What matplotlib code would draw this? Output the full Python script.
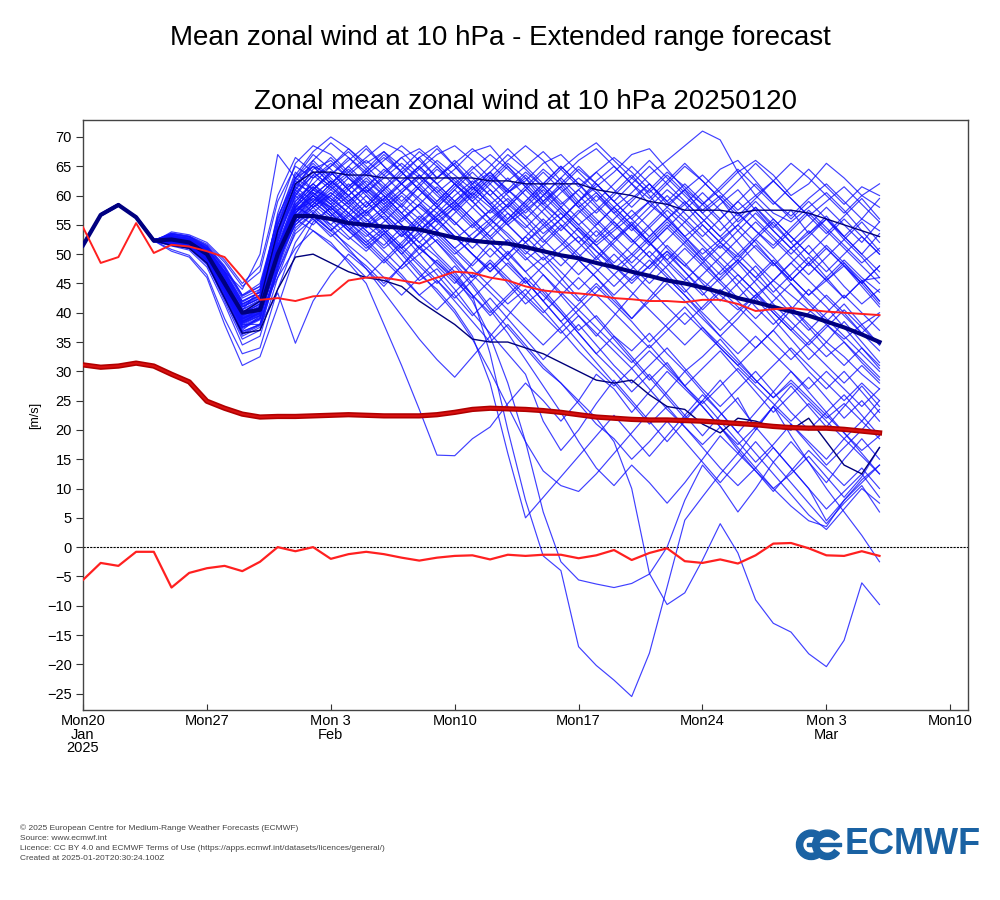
import numpy as np
import pandas as pd
import matplotlib
matplotlib.use("Agg")
import matplotlib.pyplot as plt
from matplotlib import font_manager
from matplotlib.patches import Wedge, Rectangle

# fechas: 46 dias desde el 20 de enero de 2025
dates = pd.date_range("2025-01-20", periods=46, freq="D")
tick_dates = pd.date_range("2025-01-20", "2025-03-10", freq="7D")
tick_labels = ["Mon20\nJan\n2025", "Mon27", "Mon 3\nFeb", "Mon10",
               "Mon17", "Mon24", "Mon 3\nMar", "Mon10"]

# miembros del ensemble (aproximados)
members = [
    [51.6,56.8,58.5,56.2,52.4,53.5,53.0,51.5,48.0,43.0, 45.0,56.0,63.5,67.5,70.0,68.0,65.5,67.5,64.0,66.5, 63.0,65.5,62.0,64.0,60.5,63.0,59.0,61.5,58.0,60.5, 57.0,59.5,62.0,58.5,61.0,57.0,59.5,55.5,58.0,54.5, 57.5,53.5,56.0,52.5,55.5,52.0],
    [51.4,56.6,58.3,56.4,52.2,52.0,51.5,50.0,45.0,38.5, 40.0,52.0,61.5,65.0,63.5,66.0,68.5,65.0,62.0,64.5, 67.0,68.5,66.0,63.0,60.5,62.5,65.5,67.0,64.0,61.0, 58.0,60.5,63.5,66.0,68.5,71.0,69.5,64.0,60.0,57.0, 55.5,58.0,60.5,57.5,54.0,50.5],
    [51.5,56.7,58.4,56.3,52.5,53.0,52.0,49.5,43.5,37.0, 39.5,51.0,60.0,64.5,66.0,63.0,60.5,63.5,66.5,68.0, 65.5,62.5,60.0,63.0,66.0,68.5,66.0,62.5,59.0,61.5, 64.0,67.0,68.0,64.5,61.0,58.5,61.0,64.0,66.0,63.5, 60.0,62.0,65.5,63.0,60.0,62.0],
    [51.7,56.9,58.6,56.1,52.1,52.5,53.0,51.0,47.0,41.5, 43.0,57.0,65.5,68.5,67.0,64.0,66.5,69.0,67.5,64.5, 62.0,64.5,67.5,68.5,65.0,61.5,58.5,56.0,59.0,62.5, 65.0,62.0,58.5,56.0,58.5,61.5,64.5,66.0,62.5,59.0, 56.5,59.5,62.0,59.0,56.0,59.5],
    [51.5,56.7,58.4,56.3,52.3,51.5,51.0,48.5,42.0,35.5, 37.0,47.5,58.0,63.0,65.0,67.5,64.5,61.0,63.5,66.5, 68.5,65.0,61.5,58.5,61.0,64.0,61.5,58.0,55.0,57.5, 60.5,63.5,60.0,56.5,53.0,55.5,58.5,61.0,57.5,54.0, 51.0,53.5,56.5,53.0,50.0,47.0],
    [51.3,56.5,58.2,56.5,52.6,52.8,52.3,50.5,46.0,40.5, 42.0,50.5,57.0,59.5,58.0,55.5,57.5,60.0,57.0,54.0, 56.5,59.0,61.5,58.5,55.0,52.0,54.5,57.0,54.0,50.5, 47.5,50.0,53.0,56.0,53.0,49.5,46.5,49.0,52.5,49.5, 46.0,43.0,45.5,48.5,45.0,41.5],
    [51.6,56.8,58.5,56.2,52.4,53.2,52.5,50.8,46.5,41.0, 42.5,49.0,55.0,58.0,60.0,57.0,54.5,56.5,53.5,50.0, 52.5,49.5,46.0,48.5,45.0,41.5,44.0,40.5,37.0,39.5, 36.0,33.5,36.5,33.0,30.0,32.5,35.5,32.0,28.5,25.5, 28.0,25.0,22.0,24.5,21.5,18.5],
    [51.4,56.6,58.3,56.4,52.2,51.8,51.2,49.0,44.0,38.0, 39.5,53.5,62.0,60.5,58.0,61.0,63.5,60.5,58.0,61.5, 64.5,62.0,59.0,56.0,58.5,61.5,64.5,62.0,58.5,55.5, 52.5,55.0,58.0,61.0,58.5,55.0,52.0,49.5,52.5,55.5, 52.0,48.5,45.5,48.0,44.5,41.0],
    [51.5,56.7,58.4,56.3,52.3,52.2,51.8,49.8,45.0,39.0, 40.0,46.0,51.0,54.0,52.0,48.5,45.0,38.0,31.0,23.5, 15.7,15.6,18.5,20.5,24.5,28.0,25.0,21.5,25.0,29.5, 27.0,23.0,26.5,30.0,27.0,24.0,20.5,17.5,20.5,24.0, 21.0,18.0,15.0,18.5,15.5,12.5],
    [51.5,56.7,58.4,56.3,52.3,52.6,52.0,50.2,45.5,39.5, 41.0,51.0,57.5,60.0,58.0,55.0,57.5,54.0,51.0,53.5, 50.0,47.0,43.0,33.0,20.0,8.0,-1.5,-4.0,-17.0,-20.2, -22.7,-25.5,-18.1,-6.8,4.6,8.6,12.5,16.0,13.0,9.5, 13.0,16.5,13.5,10.5,13.5,10.0],
    [51.4,56.6,58.3,56.4,52.2,52.3,51.7,49.5,44.5,38.5, 40.0,49.5,56.5,59.5,57.0,54.5,52.0,54.5,51.5,55.0, 52.0,48.5,45.0,41.0,37.5,34.0,30.5,28.0,25.0,22.0, 18.0,10.0,-4.5,-9.8,-7.8,-2.2,4.0,-1.0,-9.0,-13.0, -14.5,-18.2,-20.4,-15.9,-6.1,-9.8],
    [51.6,56.8,58.5,56.2,52.4,52.9,52.4,50.3,45.8,40.0, 41.5,50.0,57.0,61.0,59.5,57.0,54.0,51.5,54.5,51.0, 48.5,46.0,42.0,36.0,28.0,18.0,6.0,-2.5,-5.6,-6.3, -6.9,-6.2,-4.6,0.0,8.0,14.0,10.5,6.0,10.0,14.5, 18.0,14.5,11.0,15.0,18.5,15.0],
    [51.5,56.7,58.4,56.3,52.3,52.0,51.3,49.0,43.0,36.5, 38.0,48.0,56.0,60.0,62.5,60.0,57.0,59.5,56.5,53.5, 56.0,53.0,50.0,47.5,50.5,47.0,43.5,40.0,36.5,33.0, 30.0,26.5,29.5,26.0,22.5,19.0,22.5,25.5,20.0,24.0, 19.0,14.5,10.0,6.0,2.0,-2.5],
    [51.5,56.7,58.4,56.3,52.3,52.0,51.5,49.0,44.0,38.0, 38.0,43.4,34.8,42.0,46.5,50.0,47.5,44.5,48.0,51.5, 48.0,45.0,48.5,52.0,49.0,45.5,42.0,45.5,49.0,46.0, 42.5,39.0,42.5,46.0,43.0,39.5,36.0,39.0,42.5,39.0, 35.5,32.0,35.0,38.5,35.0,31.5],
    [51.5,56.7,58.4,56.3,52.3,53.0,52.5,51.0,47.0,44.0, 50.0,67.0,63.0,65.0,62.0,64.5,61.5,64.0,66.5,63.5, 60.5,63.0,60.0,57.0,59.5,56.5,53.5,56.0,59.0,56.0, 53.0,50.0,47.5,50.5,47.0,44.0,47.0,50.0,47.0,43.5, 46.5,49.5,46.0,42.5,45.5,42.0],
    [51.4,56.6,58.3,56.4,52.2,52.5,51.9,49.9,45.2,39.5, 41.0,50.0,56.0,58.5,56.0,53.0,50.5,53.5,50.0,46.5, 44.0,40.5,36.0,28.0,16.0,5.0,8.5,12.0,15.5,19.0, 22.5,19.0,15.5,19.0,22.5,26.0,23.0,19.5,16.0,12.5, 9.0,5.5,3.0,6.5,10.0,7.5],
    [51.6,56.8,58.5,56.2,52.4,52.0,51.4,49.2,44.2,38.2, 39.5,49.0,55.5,58.0,60.5,58.0,55.0,52.5,49.0,45.5, 47.5,44.0,40.0,36.5,33.0,29.5,21.5,16.5,20.0,24.5, 28.5,25.0,21.5,18.0,21.5,25.0,28.5,24.5,20.5,17.0, 13.5,10.0,4.5,8.0,11.5,14.0],
    [51.5,56.7,58.4,56.3,52.3,53.3,52.7,51.2,47.5,42.5, 44.0,54.5,61.0,64.0,61.5,59.0,61.5,64.5,62.0,59.5, 57.0,60.0,62.5,60.0,57.0,54.5,57.5,60.5,63.0,60.5, 57.5,54.5,51.5,54.5,57.5,60.5,57.5,54.0,51.0,48.0, 51.0,54.0,51.0,48.0,45.0,48.0],
    [51.3,56.5,58.2,56.5,52.6,52.4,51.9,49.6,44.8,38.8, 40.5,50.0,57.5,59.0,56.5,59.0,61.5,59.0,56.0,58.5, 55.5,52.5,55.0,57.5,55.0,52.0,49.0,51.5,54.5,51.5, 48.0,45.0,48.0,51.5,48.5,45.0,42.0,45.0,48.0,44.5, 41.0,38.0,35.0,32.5,29.5,27.0],
    [51.7,56.9,58.6,56.1,52.1,52.7,52.2,50.4,46.2,41.0, 42.5,53.0,61.0,66.0,69.0,66.5,63.5,66.0,68.5,66.0, 63.0,65.5,68.0,65.5,62.5,65.0,67.5,64.5,61.5,64.0, 66.5,64.0,61.0,58.0,61.0,63.5,60.5,57.5,60.0,62.5, 59.5,56.5,59.0,61.5,58.5,55.5],
    [51.5,56.7,58.4,56.3,52.3,51.8,51.1,48.7,43.2,36.8, 38.0,48.5,57.0,60.5,58.5,56.0,53.5,50.5,47.5,50.0, 46.5,43.0,39.5,42.5,39.0,35.5,32.0,35.0,38.0,34.5, 31.0,28.0,31.0,34.0,30.5,27.0,24.0,27.0,30.0,26.5, 23.0,20.0,23.0,26.0,22.5,19.0],
    [51.4,56.6,58.3,56.4,52.2,52.2,51.6,49.4,44.6,38.6, 40.0,49.0,55.0,57.5,54.5,51.0,47.5,43.5,39.5,35.5, 32.0,29.0,32.5,36.0,39.5,43.0,46.5,43.0,39.5,36.0, 39.5,43.0,46.5,50.0,47.0,43.5,40.0,37.0,34.0,37.0, 40.5,44.0,41.0,37.5,34.0,31.0],
    [51.6,56.8,58.5,56.2,52.4,53.1,52.6,51.0,47.2,42.0, 43.5,55.5,63.0,61.0,63.5,66.5,64.0,61.5,64.5,67.5, 65.0,62.0,59.5,62.5,65.5,63.0,60.0,63.0,66.0,68.0, 65.0,62.0,59.5,62.5,65.5,62.5,59.5,56.5,59.5,62.5, 65.5,63.0,60.0,57.0,60.0,58.0],
    [51.5,56.7,58.4,56.3,52.3,52.4,51.8,49.7,45.0,39.2, 40.5,51.5,58.0,56.5,54.0,56.5,54.0,51.0,53.5,56.5, 54.0,51.0,53.5,56.0,53.5,50.5,48.0,50.5,53.0,50.5, 48.0,45.5,48.0,50.5,48.0,45.5,43.0,40.5,43.0,45.5, 43.0,40.5,38.0,35.5,38.0,40.0],
    [51.5,56.7,58.4,56.3,52.3,50.5,49.5,46.0,38.0,31.0, 32.5,41.0,50.0,55.5,58.0,55.5,53.0,55.5,58.5,56.0, 53.0,50.0,52.5,55.5,58.5,56.0,52.5,49.5,46.5,49.5, 52.5,55.5,52.0,48.5,45.5,48.5,51.5,48.5,45.0,41.5, 38.5,35.5,32.5,35.0,31.5,28.5],
    [51.4,56.6,58.3,56.4,52.2,51.6,51.0,48.2,42.5,36.0, 37.5,47.0,54.5,57.0,55.0,52.5,55.0,57.5,55.0,52.0, 49.5,46.5,43.0,39.5,42.5,45.5,42.0,38.5,35.0,31.5, 28.0,24.5,21.0,24.0,20.5,17.0,13.5,10.5,13.5,17.0, 13.5,10.0,6.5,9.5,12.5,8.5],
    [51.6,56.8,58.5,56.2,52.4,52.6,52.0,50.0,45.3,39.8, 41.5,54.0,63.0,67.0,64.5,61.5,64.0,66.5,64.0,61.0, 58.5,61.5,64.5,67.0,64.5,61.5,58.5,61.5,64.5,62.0, 59.0,56.0,59.0,62.0,65.0,62.5,59.5,62.5,65.5,62.5, 59.5,56.5,53.5,56.5,59.5,56.0],
    [51.5,56.7,58.4,56.3,52.3,52.1,51.5,49.1,44.0,37.8, 39.2,49.5,57.0,60.0,57.5,60.0,62.5,60.0,57.0,54.0, 56.5,59.0,56.0,53.0,50.0,47.0,49.5,46.0,42.5,39.0, 35.5,32.0,28.5,31.5,27.5,24.0,20.5,17.0,13.5,10.0, 7.0,4.5,3.5,8.0,11.0,14.0],
    [51.5,56.7,58.4,56.3,52.3,53.4,52.9,51.3,47.8,43.0, 44.5,55.0,62.5,60.0,62.5,60.0,57.0,59.5,62.0,59.0, 56.0,58.5,61.5,58.5,55.5,58.0,61.0,58.0,55.0,52.0, 54.5,57.5,54.5,51.0,48.0,51.0,48.0,44.5,41.0,38.0, 41.0,37.5,34.0,31.0,34.0,30.5],
    [51.3,56.5,58.2,56.5,52.6,52.3,51.7,49.3,44.3,38.3, 39.8,48.5,55.5,58.5,61.0,58.5,56.0,53.5,56.0,58.5, 56.0,53.0,50.0,47.0,50.0,53.0,56.0,53.0,50.0,47.5, 44.5,47.5,50.5,47.5,44.0,40.5,43.5,46.5,43.5,40.0, 37.0,40.0,43.0,40.0,36.5,33.5],
    [51.6,56.8,58.5,56.2,52.4,52.7,52.1,50.0,45.6,40.2, 41.8,51.5,58.5,56.0,53.0,55.5,52.5,49.5,46.5,43.0, 45.5,42.0,38.5,35.0,38.0,34.5,31.0,28.0,24.5,21.0, 18.5,15.0,18.0,21.5,18.0,14.5,11.0,14.5,18.0,14.5, 11.0,7.5,4.0,7.5,10.5,6.0],
    [51.5,56.7,58.4,56.3,52.3,53.6,53.1,51.7,48.6,44.5, 47.0,59.0,65.0,63.0,65.5,63.0,60.5,63.0,65.5,63.0, 60.0,57.5,60.5,63.5,61.0,58.0,55.0,58.0,61.0,58.0, 55.0,52.0,55.0,58.0,55.5,52.5,49.5,52.5,55.5,52.5, 49.5,46.5,49.5,52.5,49.5,46.0],
    [51.4,56.6,58.3,56.4,52.2,52.1,51.4,49.1,44.3,38.4, 39.8,49.0,56.0,59.0,56.5,54.0,51.5,54.0,51.0,48.0, 45.0,48.0,44.5,40.5,36.5,32.0,27.5,23.0,18.0,13.5, 10.5,14.0,11.0,7.5,11.0,15.0,19.0,16.0,20.0,24.0, 27.5,24.0,20.5,24.0,27.5,24.0],
    [51.5,56.7,58.4,56.3,52.3,51.9,51.2,48.9,43.6,37.3, 38.8,47.0,53.5,56.0,53.5,50.5,48.0,45.0,48.0,51.0, 48.5,45.5,42.5,45.5,48.5,45.5,42.0,38.5,41.5,44.5, 41.5,38.5,35.0,38.0,41.0,37.5,34.0,31.0,34.0,37.0, 33.5,30.0,27.0,30.0,26.5,23.0],
    [51.6,56.8,58.5,56.2,52.4,52.3,51.7,49.6,44.9,39.0, 40.5,52.5,60.0,63.5,61.0,63.5,66.0,63.5,60.5,63.0, 66.0,63.5,61.0,64.0,61.0,58.5,61.5,64.5,67.0,69.0, 66.0,63.0,60.5,63.5,60.5,57.5,60.0,57.0,54.0,51.5, 54.5,57.5,54.5,51.5,48.5,51.0],
    [51.5,56.7,58.4,56.3,52.3,52.8,52.2,50.6,46.4,41.0, 42.5,52.0,59.0,62.0,59.5,57.0,54.5,57.0,54.0,51.0, 53.5,50.5,47.5,44.5,41.5,44.0,40.5,37.0,33.5,30.5, 27.5,30.5,27.0,23.5,20.5,17.5,20.5,16.5,13.0,10.0, 12.5,15.5,12.0,8.5,12.0,17.0],
    [51.4,56.6,58.3,56.4,52.2,52.9,52.4,50.8,46.8,41.5, 43.0,54.0,60.5,58.0,60.5,58.0,55.5,58.0,60.5,58.0, 55.5,58.0,60.5,58.0,55.0,57.5,60.0,57.0,54.0,51.5, 54.0,56.5,59.0,56.0,53.0,50.0,52.5,55.0,52.0,48.5, 45.5,48.5,45.5,42.5,45.5,42.0],
    [51.5,56.7,58.4,56.3,52.3,50.8,49.8,46.5,39.0,33.0, 34.0,44.0,52.0,56.5,54.0,51.5,49.0,46.0,43.0,46.0, 49.0,46.0,43.0,40.0,43.0,46.0,43.0,40.0,36.5,33.0, 36.0,32.5,29.0,25.5,22.0,25.0,21.5,18.0,14.5,17.5, 21.0,17.5,14.0,17.0,20.0,23.5],
    [51.7,56.9,58.6,56.1,52.1,53.8,53.3,52.0,49.0,45.0, 48.0,60.0,66.5,64.0,61.5,64.0,61.0,58.5,61.0,63.5, 61.0,58.0,61.0,64.0,67.0,64.5,61.5,58.5,61.0,64.0, 61.0,58.0,61.0,64.0,61.5,58.5,61.5,64.5,61.5,58.5, 61.5,64.5,61.5,58.5,61.5,60.0],
    [51.5,56.7,58.4,56.3,52.3,52.2,51.6,49.3,44.4,38.5, 40.0,50.5,58.5,61.5,59.0,56.5,59.0,56.0,53.0,55.5, 58.0,55.5,52.5,55.0,52.0,49.0,51.5,54.5,57.5,54.5, 51.5,48.5,51.5,54.5,51.5,48.5,45.5,48.5,51.5,48.5, 45.5,48.5,51.5,48.5,45.5,46.0],
    [51.5,56.7,58.4,56.3,52.3,52.5,51.9,49.7,45.1,39.3, 40.8,50.5,57.5,60.0,57.0,54.0,51.0,53.5,50.5,47.0, 43.5,40.0,35.5,30.0,24.0,18.0,13.0,10.5,9.5,12.5, 16.0,19.5,23.0,26.5,30.0,26.5,23.0,19.5,23.0,26.5, 30.0,26.5,23.0,19.5,16.0,12.5],
    [51.6,56.8,58.5,56.2,52.4,52.3,51.8,49.5,44.7,38.9, 40.3,49.5,56.0,54.0,51.5,49.0,46.0,49.0,46.0,43.0, 40.5,43.5,46.5,43.5,40.5,37.5,34.5,37.5,40.5,37.5, 34.5,31.5,34.5,31.0,27.5,30.5,33.5,30.0,26.5,23.0, 26.0,29.0,25.5,22.0,25.0,21.5],
    [51.5,56.7,58.4,56.3,52.3,52.9,52.3,50.4,46.0,40.5, 44.0,56.5,62.5,65.5,62.5,59.5,56.5,59.5,62.5,65.0, 62.0,59.0,56.0,53.0,56.0,59.0,62.0,65.0,62.0,58.5, 55.5,52.5,49.5,52.5,55.5,58.5,55.5,52.0,48.5,45.5, 48.5,51.5,48.0,44.5,41.5,44.0],
    [51.4,56.6,58.3,56.4,52.2,52.1,51.5,49.0,43.8,37.5, 39.0,50.0,59.5,62.0,59.0,62.0,59.0,56.0,53.0,56.0, 59.0,62.0,59.0,56.0,53.0,50.0,53.0,56.0,53.0,49.5, 46.5,49.5,52.5,55.5,52.5,49.0,45.5,42.5,45.5,48.5, 45.0,41.5,38.5,41.5,38.0,34.5],
    [51.6,56.8,58.5,56.2,52.4,53.4,52.8,51.0,47.0,42.0, 43.5,55.0,61.5,59.0,62.0,65.0,62.0,59.0,62.0,65.0, 68.0,65.0,62.0,59.0,56.0,59.0,62.0,59.0,56.0,53.0, 56.0,59.0,62.0,59.0,56.0,53.0,56.0,59.0,56.0,53.0, 50.0,53.0,56.0,53.0,50.0,53.5],
    [51.5,56.7,58.4,56.3,52.3,51.9,51.3,48.8,43.0,36.8, 38.0,48.0,56.5,59.0,62.0,59.0,56.0,53.0,50.0,53.0, 56.0,53.0,50.0,47.0,50.0,53.0,50.0,47.0,44.0,47.0, 50.0,47.0,44.0,41.0,38.0,41.0,44.0,41.0,38.0,35.0, 32.0,35.0,38.0,35.0,32.0,29.0],
    [51.5,56.7,58.4,56.3,52.3,52.7,52.1,49.9,45.4,39.9, 41.5,52.5,60.5,63.5,66.5,63.5,60.5,57.5,60.5,63.5, 60.5,57.5,54.5,57.5,60.5,63.5,60.5,57.5,54.5,51.5, 48.5,51.5,54.5,57.5,54.5,51.5,48.5,45.5,42.5,45.5, 48.5,45.5,42.5,39.5,36.5,39.5],
    [51.7,56.9,58.6,56.1,52.1,52.4,51.8,49.6,44.8,39.0, 40.5,51.0,59.0,62.0,65.0,68.0,65.0,62.0,59.0,62.0, 65.0,62.0,59.0,62.0,65.0,62.0,59.0,56.0,59.0,62.0, 59.0,56.0,53.0,56.0,59.0,56.0,53.0,50.0,53.0,56.0, 53.0,50.0,47.0,50.0,53.0,50.0],
    [51.4,56.6,58.3,56.4,52.2,53.0,52.5,50.6,46.3,41.2, 42.8,53.5,61.0,58.0,55.0,58.0,61.0,58.0,55.0,52.0, 55.0,58.0,55.0,52.0,49.0,52.0,55.0,52.0,49.0,46.0, 43.0,46.0,49.0,46.0,43.0,40.0,37.0,40.0,43.0,40.0, 37.0,34.0,31.0,28.0,31.0,28.0],
    [51.5,56.7,58.4,56.3,52.3,52.0,51.4,49.0,43.5,37.5, 39.0,49.5,58.0,61.0,58.5,61.5,64.5,67.5,65.0,62.0, 59.0,62.0,65.0,62.0,59.0,56.0,59.0,62.0,65.0,62.0, 59.0,62.0,65.0,62.0,59.0,56.0,53.0,56.0,59.0,56.0, 53.0,50.0,53.0,56.0,53.0,50.0],
    [51.6,56.8,58.5,56.2,52.4,52.5,51.9,49.8,45.2,39.4, 41.0,51.0,57.0,55.0,58.0,55.0,52.0,49.0,52.0,55.0, 52.0,49.0,46.0,49.0,46.0,43.0,40.0,43.0,46.0,43.0, 40.0,37.0,34.0,37.0,40.0,37.0,34.0,31.0,28.0,31.0, 34.0,31.0,28.0,25.0,28.0,25.0],
    [51.5,56.7,58.4,56.3,52.3,53.2,52.6,50.9,46.8,41.8, 43.5,55.0,63.0,66.0,63.0,60.0,63.0,60.0,57.0,60.0, 63.0,66.0,63.0,60.0,63.0,60.0,57.0,54.0,57.0,60.0, 57.0,54.0,57.0,60.0,57.0,54.0,51.0,54.0,57.0,54.0, 51.0,48.0,51.0,48.0,45.0,48.0],
    [51.4,56.6,58.3,56.4,52.2,51.7,51.0,48.4,42.8,36.3, 37.8,47.5,55.5,58.5,61.5,58.5,61.5,58.5,55.5,58.5, 61.5,58.5,55.5,52.5,55.5,58.5,55.5,52.5,49.5,52.5, 55.5,52.5,49.5,46.5,43.5,46.5,49.5,46.5,43.5,40.5, 37.5,34.5,37.5,40.5,37.5,34.5],
    [51.5,56.7,58.4,56.3,52.3,52.3,51.7,49.4,44.6,38.7, 40.2,50.0,58.0,61.0,64.0,61.0,64.0,67.0,64.0,61.0, 58.0,55.0,58.0,61.0,58.0,55.0,52.0,55.0,52.0,49.0, 52.0,55.0,52.0,49.0,46.0,43.0,46.0,49.0,46.0,43.0, 40.0,37.0,40.0,43.0,40.0,37.0],
    [51.6,56.8,58.5,56.2,52.4,52.8,52.2,50.2,45.9,40.6, 42.2,53.0,60.0,57.0,60.0,63.0,60.0,57.0,60.0,57.0, 54.0,57.0,60.0,63.0,60.0,57.0,60.0,63.0,60.0,57.0, 60.0,63.0,66.0,63.0,60.0,57.0,54.0,57.0,54.0,51.0, 54.0,57.0,54.0,51.0,48.0,45.0],
    [51.5,56.7,58.4,56.3,52.3,52.6,52.0,49.9,45.3,39.6, 41.2,51.5,57.5,60.5,57.5,54.5,51.5,48.5,51.5,48.5, 45.5,42.5,45.5,48.5,45.5,42.5,39.5,36.5,39.5,36.5, 33.5,30.5,33.5,30.5,27.5,24.5,27.5,30.5,27.5,24.5, 21.5,24.5,21.5,18.5,21.5,25.0],
    [51.4,56.6,58.3,56.4,52.2,53.1,52.5,50.7,46.6,41.4, 43.0,54.0,62.0,65.0,62.0,65.0,68.0,65.0,62.0,65.0, 62.0,59.0,62.0,65.0,68.0,65.0,62.0,65.0,62.0,59.0, 62.0,65.0,62.0,59.0,62.0,59.0,56.0,59.0,62.0,59.0, 56.0,59.0,56.0,53.0,56.0,54.0],
    [51.5,56.7,58.4,56.3,52.3,52.0,51.4,48.9,43.6,37.6, 39.0,49.0,57.0,60.0,57.0,54.0,57.0,54.0,51.0,54.0, 57.0,54.0,51.0,54.0,57.0,54.0,51.0,48.0,51.0,54.0, 51.0,48.0,45.0,48.0,51.0,48.0,45.0,42.0,39.0,42.0, 45.0,42.0,39.0,36.0,33.0,30.0],
    [51.6,56.8,58.5,56.2,52.4,52.4,51.8,49.7,45.0,39.1, 40.6,50.5,58.5,61.5,58.5,55.5,58.5,61.5,58.5,61.5, 58.5,55.5,52.5,49.5,52.5,49.5,46.5,43.5,40.5,43.5, 46.5,43.5,40.5,37.5,34.5,37.5,34.5,31.5,28.5,25.5, 28.5,25.5,22.5,19.5,16.5,19.0],
    [51.5,56.7,58.4,56.3,52.3,53.5,53.0,51.4,47.6,42.8, 44.5,56.0,64.0,61.0,64.0,61.0,58.0,61.0,64.0,61.0, 58.0,61.0,58.0,55.0,58.0,61.0,64.0,61.0,58.0,55.0, 58.0,55.0,52.0,55.0,52.0,49.0,52.0,55.0,58.0,55.0, 52.0,55.0,58.0,55.0,52.0,55.5],
    [51.4,56.6,58.3,56.4,52.2,51.4,50.7,47.8,41.5,34.5, 36.0,46.0,54.0,57.0,54.0,57.0,60.0,57.0,54.0,51.0, 54.0,51.0,48.0,51.0,48.0,45.0,48.0,45.0,42.0,45.0, 42.0,39.0,42.0,45.0,42.0,39.0,36.0,33.0,36.0,33.0, 30.0,27.0,30.0,27.0,24.0,27.0],
    [51.5,56.7,58.4,56.3,52.3,52.2,51.6,49.2,44.2,38.2, 39.6,50.0,58.0,61.0,64.0,61.0,58.0,61.0,58.0,55.0, 58.0,61.0,64.0,61.0,58.0,61.0,58.0,55.0,52.0,55.0, 58.0,55.0,52.0,49.0,52.0,55.0,52.0,49.0,46.0,49.0, 46.0,43.0,46.0,49.0,46.0,43.5],
]

# lineas oscuras finas (percentiles del ensemble)
dark_upper = [51.5,56.7,58.4,56.3,52.3,52.6,52.0,50.0,45.5,40.0, 42.0,54.0,62.0,64.0,64.0,63.5,63.5,63.0,63.0,63.0, 63.0,63.0,63.0,62.5,62.5,62.0,62.0,62.0,62.0,61.0, 60.5,60.0,59.0,58.5,57.5,57.5,57.5,57.0,57.5,57.5, 57.5,57.0,56.0,55.0,54.0,53.0]
dark_lower = [51.5,56.7,58.4,56.3,52.3,51.5,51.0,48.5,42.5,36.5, 37.0,44.0,49.5,50.0,48.5,47.0,46.0,45.5,44.5,42.0, 40.0,38.0,35.5,35.0,35.0,34.0,33.0,31.5,30.0,28.5, 28.0,28.5,26.0,24.0,23.5,21.0,19.5,22.0,21.5,20.5, 20.0,22.0,18.0,14.0,12.5,17.0]
ens_mean = [51.5,56.7,58.4,56.3,52.3,52.5,52.0,50.0,45.0,40.0, 40.5,50.0,56.5,56.5,56.0,55.3,55.0,54.7,54.5,54.2, 53.5,52.8,52.3,52.0,51.8,51.2,50.5,49.8,49.3,48.5, 47.8,47.0,46.3,45.5,45.0,44.3,43.5,42.5,41.8,41.0, 40.2,39.5,38.5,37.5,36.3,35.0]

# climatologia
clim_mean = [31.1,30.7,30.9,31.4,30.9,29.5,28.2,24.9,23.7,22.7, 22.2,22.3,22.3,22.4,22.5,22.6,22.5,22.4,22.4,22.4, 22.6,23.0,23.5,23.7,23.6,23.5,23.3,23.0,22.6,22.2, 22.0,21.8,21.7,21.7,21.6,21.5,21.3,21.1,20.9,20.6, 20.4,20.3,20.3,20.1,19.8,19.5]
clim_max = [54.6,48.5,49.5,55.3,50.2,51.6,51.3,50.5,49.5,46.0, 42.2,42.5,42.0,42.8,43.0,45.5,46.0,46.0,45.5,45.0, 46.0,47.0,46.8,46.0,45.5,44.5,43.8,43.5,43.3,43.0, 42.5,42.3,42.0,42.0,41.8,42.2,42.2,41.5,40.3,40.6, 40.8,40.5,40.2,40.0,39.8,39.6]
clim_min = [-5.6,-2.7,-3.2,-0.8,-0.8,-6.9,-4.4,-3.6,-3.2,-4.1, -2.5,0.0,-0.7,0.0,-2.0,-1.2,-0.8,-1.2,-1.8,-2.3, -1.8,-1.5,-1.4,-2.1,-1.3,-1.5,-1.3,-1.3,-1.9,-1.4, -0.5,-2.2,-1.0,-0.2,-2.4,-2.7,-2.1,-2.8,-1.4,0.6, 0.7,-0.2,-1.4,-1.5,-0.7,-1.5]

names = {f.name for f in font_manager.fontManager.ttflist}
narrow = "Liberation Sans Narrow" if "Liberation Sans Narrow" in names else "Liberation Sans"
plt.rcParams["font.family"] = ["Liberation Sans", "DejaVu Sans"]

fig = plt.figure(figsize=(10, 9), dpi=100)
ax = fig.add_axes([0.083, 0.2111, 0.885, 0.6556])

for m in members:
    ax.plot(dates, m, color="#1010ff", lw=0.85, alpha=0.8, zorder=2)
ax.plot(dates, dark_upper, color="#00007a", lw=1.0, zorder=3)
ax.plot(dates, dark_lower, color="#00007a", lw=1.0, zorder=3)
ax.plot(dates, ens_mean, color="#000080", lw=3.0, zorder=4)
ax.plot(dates, clim_mean, color="#b00000", lw=3.8, zorder=5)
ax.plot(dates, clim_mean, color="#d81010", lw=1.5, zorder=5)
ax.plot(dates, clim_max, color="#ff2020", lw=1.4, zorder=5)
ax.plot(dates, clim_min, color="#ff2020", lw=1.6, zorder=5)
ax.axhline(0, color="black", lw=0.8, ls=(0, (2, 1)), zorder=1)

ax.set_xlim(pd.Timestamp("2025-01-20"), pd.Timestamp("2025-03-11"))
ax.set_ylim(-27.8, 72.9)
ax.set_yticks(np.arange(-25, 71, 5))
ax.set_xticks(tick_dates)
ax.set_xticklabels(tick_labels, fontsize=10.5, family=narrow, linespacing=0.95)
for lab in ax.get_yticklabels():
    lab.set_fontsize(10.5)
    lab.set_family(narrow)
ax.tick_params(axis="x", direction="in", length=4, pad=3, color="#333333")
ax.tick_params(axis="y", direction="out", length=5, pad=3, color="#333333")
for s in ax.spines.values():
    s.set_color("#444444")
    s.set_linewidth(1.0)
ax.set_ylabel("[m/s]", fontsize=9, family=narrow, labelpad=4)

fig.text(0.5, 1 - 38 / 900, "Mean zonal wind at 10 hPa - Extended range forecast",
         ha="center", va="center", fontsize=20)
fig.text(0.5255, 1 - 102 / 900, "Zonal mean zonal wind at 10 hPa 20250120",
         ha="center", va="center", fontsize=20, family=narrow)

footer = ["\u00a9 2025 European Centre for Medium-Range Weather Forecasts (ECMWF)",
          "Source: www.ecmwf.int",
          "Licence: CC BY 4.0 and ECMWF Terms of Use (https://apps.ecmwf.int/datasets/licences/general/)",
          "Created at 2025-01-20T20:30:24.100Z"]
for i, t in enumerate(footer):
    fig.text(0.02, 1 - (828 + i * 10) / 900, t, fontsize=6.0, color="#444444", va="center")

# logo ECMWF
blue = "#1a62a3"
fig.text(0.845, 1 - 845 / 900, "ECMWF", fontsize=26, fontweight="bold", color=blue,
         va="center", ha="left")
lax = fig.add_axes([0.795, 1 - 861 / 900, 0.05, 0.036])
lax.set_xlim(-1.1, 2.3)
lax.set_ylim(-1.1, 1.1)
lax.set_aspect("equal")
lax.axis("off")
for cx in (0.0, 1.1):
    lax.add_patch(Wedge((cx, 0), 1.0, 35, 325, width=0.42, color=blue))
lax.add_patch(Rectangle((-0.3, -0.1), 2.3, 0.2, color=blue))

fig.savefig("out.png", dpi=100)
